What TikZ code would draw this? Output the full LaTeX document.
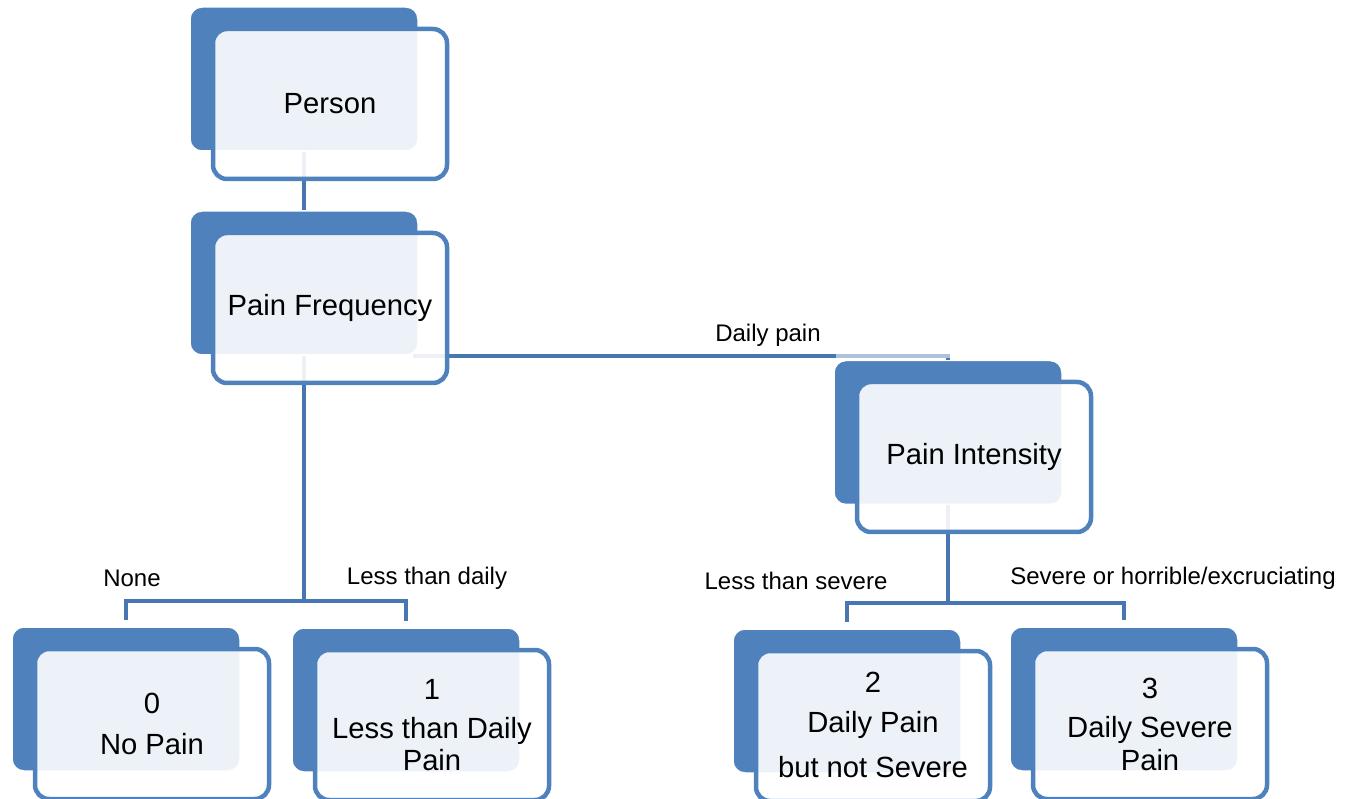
\documentclass[tikz,border=0pt]{standalone}
\usepackage{fontspec}
\setmainfont{Liberation Sans}
\definecolor{boxblue}{HTML}{4F81BD}
\definecolor{connblue}{HTML}{4876B0}
\tikzset{
  backbox/.style={draw=white, line width=1.5pt, fill=boxblue, rounded corners=12pt,
    minimum width=228pt, minimum height=144pt, inner sep=0pt},
  frontbox/.style={draw=boxblue, line width=4.5pt, fill=white, fill opacity=0.9, text opacity=1,
    rounded corners=14pt, minimum width=234pt, minimum height=150pt, inner sep=0pt,
    font=\fontsize{29.2}{31}\selectfont},
  conn/.style={draw=connblue, line width=4.2pt},
  lbl/.style={font=\fontsize{24}{26}\selectfont, inner sep=0pt},
  big/.style={font=\fontsize{29.2}{31}\selectfont, inner sep=0pt},
}
\begin{document}
\begin{tikzpicture}[x=1pt,y=-1pt]
\useasboundingbox (0,0) rectangle (1353,799);
% back boxes
\node[backbox] (pB)  at (304,79) {};
\node[backbox] (fB)  at (304,283) {};
\node[backbox] (iB)  at (948,432.5) {};
\node[backbox] (aB)  at (126,699) {};
\node[backbox] (bB)  at (406,700) {};
\node[backbox] (cB)  at (847,701) {};
\node[backbox] (dB)  at (1124,699) {};
% connectors
\draw[conn] (pB.south) -- (fB.north);
\coordinate (fE) at (413,356);
\draw[conn] (fE) -| (iB.north);
\draw[white, opacity=0.55, line width=4.5pt] (836,356) -- (952,356);
\coordinate (fJ) at (304,601);
\draw[conn] (fB.south) -- (fJ);
\draw[conn, shorten >=6pt] (fJ) -| (aB.north);
\draw[conn, shorten >=6pt] (fJ) -| (bB.north);
\coordinate (iJ) at (948,603);
\draw[conn] (iB.south) -- (iJ);
\draw[conn, shorten >=6pt] (iJ) -| (cB.north);
\draw[conn, shorten >=6pt] (iJ) -| (dB.north);
% front boxes
\node[frontbox] (pF) at (330,104) {Person};
\node[frontbox] (fF) at (330,308) {Pain Frequency};
\node[frontbox] (iF) at (974,457) {Pain Intensity};
\node[frontbox] (aF) at (152,724) {};
\node[frontbox] (bF) at (432,725) {};
\node[frontbox] (cF) at (873,726) {};
\node[frontbox] (dF) at (1150,724) {};
% box texts
\node[big] (a1) at (152,703) {0};
\node[big] (a2) at (152,744) {No Pain};
\node[big] (b1) at (432,689) {1};
\node[big] (b2) at (432,731) {Less than Daily};
\node[big] (b3) at (432,760) {Pain};
\node[big] (c1) at (873,682) {2};
\node[big] (c2) at (873,725) {Daily Pain};
\node[big] (c3) at (873,767) {but not Severe};
\node[big] (d1) at (1150,688) {3};
\node[big] (d2) at (1150,730) {Daily Severe};
\node[big] (d3) at (1150,760) {Pain};
% labels
\node[lbl] (l1) at (768,335) {Daily pain};
\node[lbl] (l2) at (132,578) {None};
\node[lbl] (l3) at (427,578) {Less than daily};
\node[lbl] (l4) at (796,581) {Less than severe};
\node[lbl] (l5) at (1173,578) {Severe or horrible/excruciating};
\end{tikzpicture}
\end{document}
